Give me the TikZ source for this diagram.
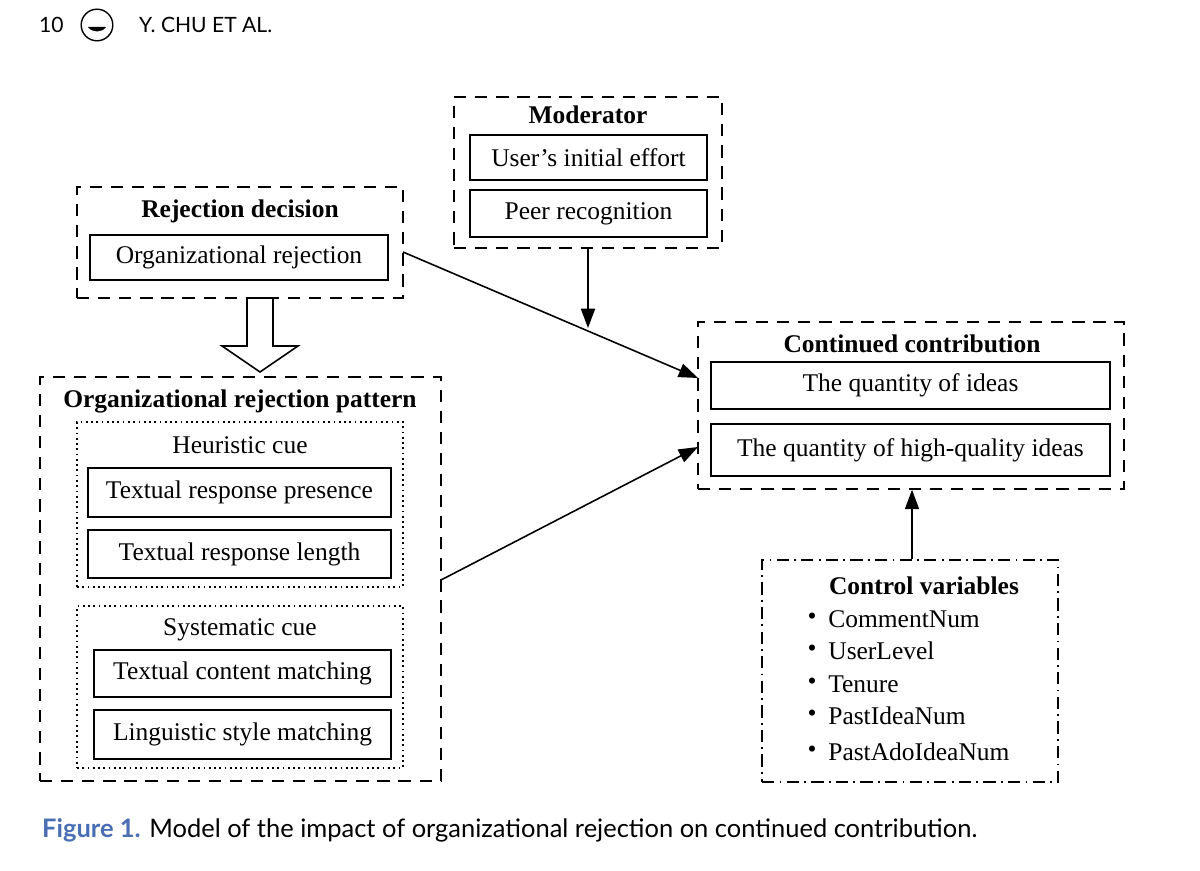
\documentclass[tikz,border=0pt]{standalone}
\usepackage{fontspec}
\setmainfont{Liberation Serif}
\newfontfamily\hdr{Lato}
\usetikzlibrary{fit,arrows.meta}
\definecolor{capblue}{RGB}{74,110,180}
\begin{document}
\begin{tikzpicture}[x=0.02cm,y=-0.02cm,
  dbox/.style={draw,dashed,dash pattern=on 7pt off 5pt,line width=0.9pt,inner sep=0},
  obox/.style={draw,dotted,line width=1pt,inner sep=0},
  cbox/.style={draw,dash pattern=on 7pt off 3pt on 1pt off 3pt,line width=0.9pt,inner sep=0},
  sbox/.style={draw,line width=0.9pt,inner sep=0},
  txt/.style={font=\fontsize{14.5}{16}\selectfont,inner sep=0},
  ttl/.style={font=\fontsize{14.5}{16}\selectfont\bfseries,inner sep=0},
  arr/.style={-{Triangle[length=11pt,width=8pt]},line width=0.9pt}]
\useasboundingbox (0,0) rectangle (1200,871);
% header
\node[font=\hdr\fontsize{12}{14}\selectfont,anchor=west] (pg) at (33,25) {10};
\node[draw,circle,line width=0.8pt,minimum size=18pt,inner sep=0] (logo) at (97,25) {};
\fill (88,27) .. controls (92,33) and (102,33) .. (106,27) -- cycle;
\node[font=\hdr\fontsize{12}{14}\selectfont,anchor=west] (au) at (133,25) {Y. CHU ET AL.};
% moderator
\node[dbox,fit={(454,97)(722,248)}] (mod) {};
\node[ttl] (modt) at (588,115) {Moderator};
\node[sbox,fit={(470,135)(707,180)}] (m1) {};
\node[txt] at (m1) {User’s initial effort};
\node[sbox,fit={(470,190)(707,237)}] (m2) {};
\node[txt] at (m2) {Peer recognition};
% rejection decision
\node[dbox,fit={(77,187)(403,298)}] (rd) {};
\node[ttl] (rdt) at (240,211) {Rejection decision};
\node[sbox,fit={(90,235)(388,280)}] (r1) {};
\node[txt] at (r1) {Organizational rejection};
% hollow arrow
\draw[line width=0.9pt,fill=white] (247,298) -- (273,298) -- (273,346) -- (298,346) -- (260,372) -- (222,346) -- (247,346) -- cycle;
% pattern
\node[dbox,fit={(40,377)(441,781)}] (pat) {};
\node[ttl] (patt) at (240,401) {Organizational rejection pattern};
\node[obox,fit={(77,422)(403,587)}] (heu) {};
\node[txt] at (240,445) {Heuristic cue};
\node[sbox,fit={(88,468)(391,517)}] (h1) {};
\node[txt] at (h1) {Textual response presence};
\node[sbox,fit={(88,530)(391,578)}] (h2) {};
\node[txt] at (h2) {Textual response length};
\node[obox,fit={(77,606)(403,768)}] (sys) {};
\node[txt] at (240,630) {Systematic cue};
\node[sbox,fit={(94,650)(391,697)}] (s1) {};
\node[txt] at (s1) {Textual content matching};
\node[sbox,fit={(94,710)(391,759)}] (s2) {};
\node[txt] at (s2) {Linguistic style matching};
% continued contribution
\node[dbox,fit={(698,322)(1124,489)}] (cc) {};
\node[ttl] at (912,344) {Continued contribution};
\node[sbox,fit={(711,362)(1110,409)}] (c1) {};
\node[txt] at (c1) {The quantity of ideas};
\node[sbox,fit={(711,424)(1110,476)}] (c2) {};
\node[txt] at (c2) {The quantity of high-quality ideas};
% control
\node[cbox,fit={(762,560)(1058,782)}] (ctl) {};
\node[ttl] at (924,586) {Control variables};
\foreach \t/\yy in {CommentNum/619,UserLevel/651,Tenure/684,PastIdeaNum/716,PastAdoIdeaNum/752}{
  \node[txt] at (812,\yy) {\textbullet};
  \node[txt,anchor=west] at (828,\yy) {\t};
}
% arrows
\coordinate (a1s) at (403,252);
\coordinate (a1e) at (698,378);
\draw[arr] (a1s) -- (a1e);
\coordinate (a2s) at (441,580);
\coordinate (a2e) at (698,447);
\draw[arr] (a2s) -- (a2e);
\coordinate (mtip) at (588,328);
\draw[arr] (mod.south -| mtip) -- (mtip);
\draw[arr] (ctl.north -| 912,0) -- (cc.south -| 912,0);
% caption
\node[font=\hdr\fontsize{14.5}{17}\selectfont,anchor=west] (cap) at (36,830) {\textcolor{capblue}{\bfseries Figure 1.} Model of the impact of organizational rejection on continued contribution.};
\end{tikzpicture}
\end{document}
